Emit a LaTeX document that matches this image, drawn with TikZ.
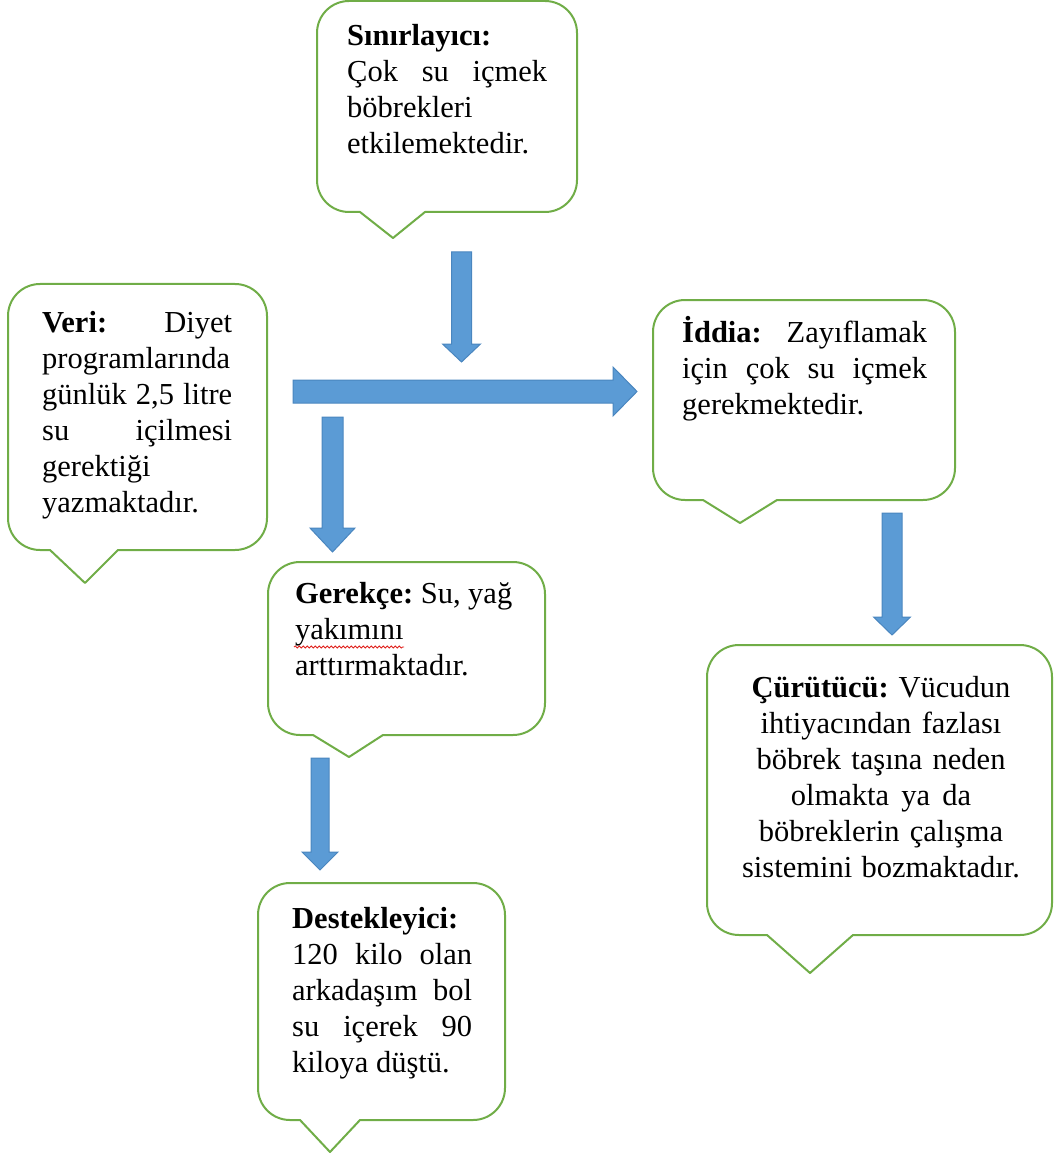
\documentclass[tikz,border=0pt]{standalone}
\usepackage{fontspec}
\setmainfont{Liberation Serif}
\usetikzlibrary{decorations.pathmorphing}
\definecolor{boxgreen}{HTML}{70AD47}
\definecolor{arrowblue}{HTML}{5B9BD5}
\definecolor{arrowedge}{HTML}{4A86BF}
\definecolor{spellred}{HTML}{E0201B}
\newcommand\firststrut{\rule{0pt}{30pt}}
\newcommand\rsp{\frenchspacing\spaceskip=0pt\relax\xspaceskip=0pt\relax}
\newcommand\jline[2]{\makebox[#1pt][s]{\rsp #2}}
% l t r b x1 xt yt x2
\newcommand\callout[8]{%
 \draw[callbox] (#5,#4) -- (#6,#7) -- (#8,#4) -- ({#3-32},#4)
   .. controls ({#3-14.3},#4) and (#3,{#4-14.3}) .. (#3,{#4-32})
   -- (#3,{#2+32}) .. controls (#3,{#2+14.3}) and ({#3-14.3},#2) .. ({#3-32},#2)
   -- ({#1+32},#2) .. controls ({#1+14.3},#2) and (#1,{#2+14.3}) .. (#1,{#2+32})
   -- (#1,{#4-32}) .. controls (#1,{#4-14.3}) and ({#1+14.3},#4) .. ({#1+32},#4)
   -- cycle;}
% xc ytop ybase ytip halfshaft halfhead
\newcommand\vblock[6]{%
 \draw[blockarrow] ({#1-#5},#2) -- ({#1+#5},#2) -- ({#1+#5},#3) -- ({#1+#6},#3)
   -- (#1,#4) -- ({#1-#6},#3) -- ({#1-#5},#3) -- cycle;}
\begin{document}
\begin{tikzpicture}[x=1pt,y=-1pt,
  callbox/.style={draw=boxgreen, line width=2pt, fill=white, line join=round},
  blockarrow/.style={fill=arrowblue, draw=arrowedge, line width=1pt, line join=miter},
  txt/.style={inner sep=0pt, font=\fontsize{30.5}{36}\selectfont, align=left, anchor=north west},
  ctxt/.style={inner sep=0pt, font=\fontsize{30.5}{36}\selectfont, align=center, anchor=north}]
\useasboundingbox (0,0) rectangle (1054,1155);

% callout shapes
\callout{317}{1}{577}{212}{360}{393}{238}{425}
\callout{8}{284}{267}{550}{50}{85}{583}{118}
\callout{653}{300}{955}{500}{703}{740}{523}{777}
\callout{268}{562}{545}{735}{313}{349}{757}{383}
\callout{707}{645}{1052}{935}{767}{810}{973}{853}
\callout{258}{883}{505}{1120}{300}{330}{1152}{360}

% texts
\node[txt, text width=200pt] (sinir) at (347,15)
  {\rsp\firststrut\textbf{Sınırlayıcı:}\\ \jline{200}{Çok su içmek}\\ böbrekleri\\ etkilemektedir.};
\node[txt, text width=190pt] (veri) at (42,302)
  {\rsp\firststrut\jline{190}{\textbf{Veri:} Diyet}\\ programlarında\\ \jline{190}{günlük 2,5 litre}\\ \jline{190}{su içilmesi}\\ gerektiği\\ yazmaktadır.};
\node[txt, text width=245pt] (iddia) at (682,312)
  {\rsp\firststrut\jline{245}{\textbf{İddia:} Zayıflamak}\\ \jline{245}{için çok su içmek}\\ gerekmektedir.};
\node[txt, text width=240pt] (gerekce) at (295,573)
  {\rsp\firststrut\textbf{Gerekçe:} Su, yağ\\ yakımını\\ arttırmaktadır.};
\node[ctxt, text width=330pt] (curutucu) at (881,667)
  {\rsp\firststrut\textbf{Çürütücü:} Vücudun\\ ihtiyacından fazlası\\ böbrek taşına neden\\ olmakta ya da\\ böbreklerin çalışma\\ sistemini bozmaktadır.};
\node[txt, text width=180pt] (destek) at (292,898)
  {\rsp\firststrut\textbf{Destekleyici:}\\ \jline{180}{120 kilo olan}\\ \jline{180}{arkadaşım bol}\\ \jline{180}{su içerek 90}\\ kiloya düştü.};

% spell-check underline
\draw[spellred, line width=0.8pt, decorate, decoration={snake, segment length=4pt, amplitude=1.1pt}] (294,647) -- (404,647);

% block arrows
\vblock{461.5}{252}{344}{362}{10}{19}
\vblock{332.5}{417}{528}{552}{10.5}{22.5}
\vblock{892}{513}{617}{635}{10}{18.5}
\vblock{320}{758}{852}{870}{9}{18}
\draw[blockarrow] (293,380) -- (613,380) -- (613,367) -- (637,391.5) -- (613,416) -- (613,403) -- (293,403) -- cycle;
\end{tikzpicture}
\end{document}
